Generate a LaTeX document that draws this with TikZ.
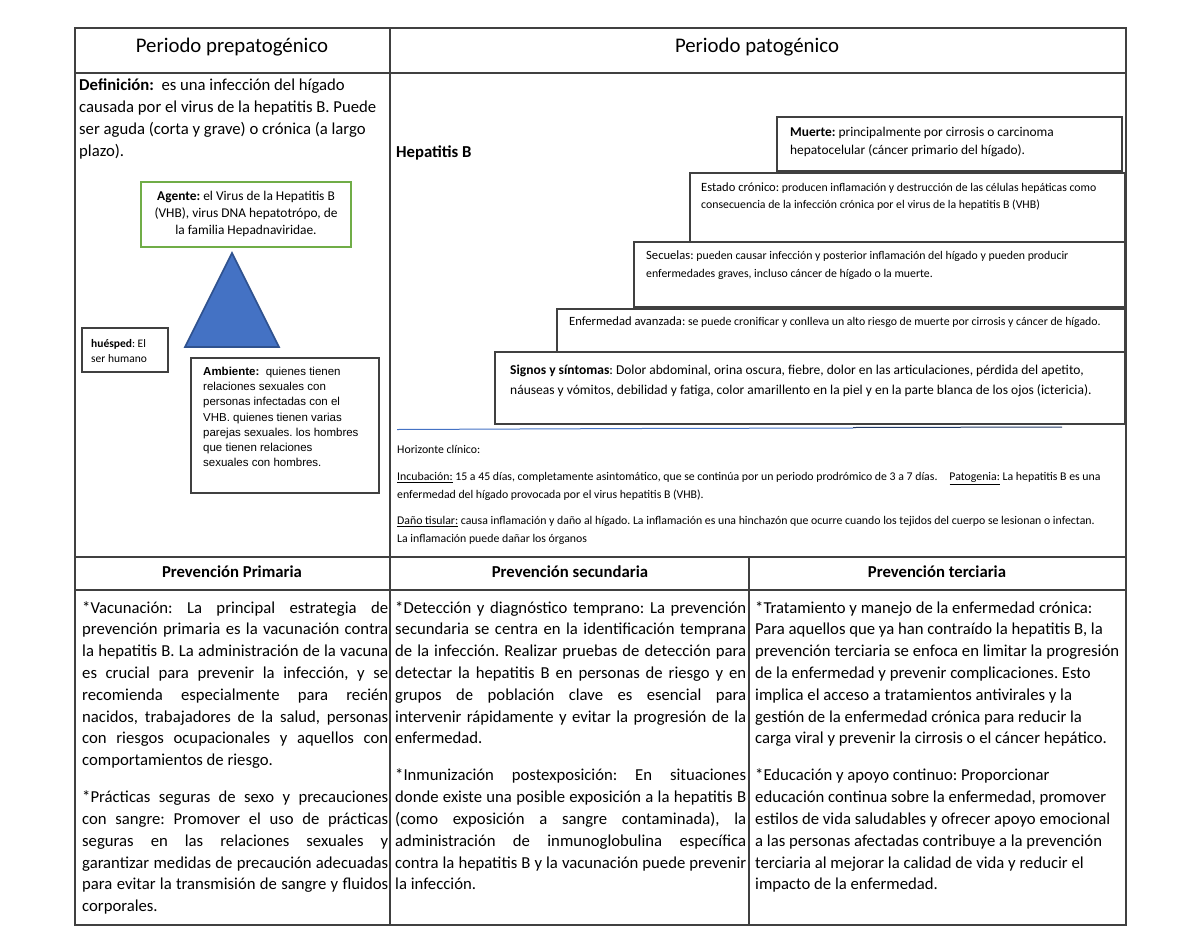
\documentclass[tikz,border=0pt]{standalone}
\usepackage{fontspec}
\setmainfont{Carlito}
\newfontfamily\arialfont{Liberation Sans}
\definecolor{heplinea}{RGB}{64,64,64}
\definecolor{hepverde}{RGB}{112,173,71}
\definecolor{hepazul}{RGB}{68,114,196}
\definecolor{hepmarino}{RGB}{47,82,143}
\definecolor{hepnavy}{RGB}{31,56,100}
\newcommand{\fs}[2]{\fontsize{#1pt}{#2pt}\selectfont}
\newcommand{\etiq}[1]{{\fontsize{12.6pt}{17pt}\selectfont #1}}
\frenchspacing

\begin{document}
\begin{tikzpicture}[x=1pt, y=-1pt,
    celda/.style={draw=heplinea, line width=1.4pt},
    caja/.style={draw=heplinea, line width=1.3pt},
    txt/.style={anchor=north west, inner sep=0pt, align=left},
    cuerpo/.style={anchor=north west, inner sep=0pt, align=justify, font={\fs{16.7}{21.8}\setlength{\parskip}{15.2pt}}},
    titulo/.style={inner sep=0pt, font=\fs{20.8}{24}},
    prev/.style={inner sep=0pt, font=\bfseries\fs{16.7}{20}}]
\useasboundingbox (0,0) rectangle (1200,927);

% === Tabla ===
\draw[celda] (75,28) rectangle (1126,925);
\draw[celda] (75,73) -- (1126,73);
\draw[celda] (75,557) -- (1126,557);
\draw[celda] (75,590) -- (1126,590);
\draw[celda] (390,28) -- (390,925);
\draw[celda] (749,557) -- (749,925);

% Encabezados
\node[titulo] (prepat) at (232,47) {Periodo prepatogénico};
\node[titulo] (pat) at (757,47) {Periodo patogénico};

% === Periodo prepatogénico ===
\node[txt, font=\fs{16.7}{21.8}] (defin) at (79,79) {\textbf{Definición:}\ \ es una infección del hígado\\causada por el virus de la hepatitis B. Puede\\ser aguda (corta y grave) o crónica (a largo\\plazo).};

% Triada
\draw[draw=hepverde, line width=2pt] (141,182) rectangle (351,247);
\node[inner sep=0pt, align=center, font=\fs{13.4}{17.3}] (agente) at (246,214) {\textbf{Agente:} el Virus de la Hepatitis B\\(VHB), virus DNA hepatotrópo, de\\la familia Hepadnaviridae.};

\draw[fill=hepazul, draw=hepmarino, line width=1.6pt] (232,253) -- (185,347) -- (279,347) -- cycle;

\draw[caja] (82,328) rectangle (168,372);
\node[txt, font=\fs{11.5}{15}] (huesped) at (91,339) {\textbf{huésped}: El\\ser humano};

\draw[caja] (191,358) rectangle (379,493);
\node[txt, font={\arialfont\fs{11.5}{15.2}}] (ambiente) at (203,367) {\textbf{Ambiente:}\ \ quienes tienen\\relaciones sexuales con\\personas infectadas con el\\VHB. quienes tienen varias\\parejas sexuales. los hombres\\que tienen relaciones\\sexuales con hombres.};

% === Periodo patogénico ===
\node[anchor=west, inner sep=0pt, font=\bfseries\fs{16.7}{20}] (hepb) at (396,153) {Hepatitis B};

% Escalera
\draw[caja] (777,117) rectangle (1122,171);
\node[txt, font=\fs{13.4}{17.5}] (muerte) at (790,127) {\textbf{Muerte:} principalmente por cirrosis o carcinoma\\hepatocelular (cáncer primario del hígado).};

\draw[caja] (690,173) rectangle (1125,242);
\node[txt, font=\fs{11.8}{17}] (cronico) at (701,183) {\etiq{Estado crónico:} producen inflamación y destrucción de las células hepáticas como\\consecuencia de la infección crónica por el virus de la hepatitis B (VHB)};

\draw[caja] (634,242) rectangle (1125,307);
\node[txt, font=\fs{11.8}{17.5}] (secuelas) at (646,251) {\etiq{Secuelas:} pueden causar infección y posterior inflamación del hígado y pueden producir\\enfermedades graves, incluso cáncer de hígado o la muerte.};

\draw[caja] (557,309) rectangle (1125,352);
\node[txt, font=\fs{11.8}{17}] (avanzada) at (569,317) {\etiq{Enfermedad avanzada:} se puede cronificar y conlleva un alto riesgo de muerte por cirrosis y cáncer de hígado.};

\draw[caja] (495,352) rectangle (1125,424);
\node[txt, font=\fs{13.5}{20}] (signos) at (510,365) {\textbf{Signos y síntomas}: Dolor abdominal, orina oscura, fiebre, dolor en las articulaciones, pérdida del apetito,\\náuseas y vómitos, debilidad y fatiga, color amarillento en la piel y en la parte blanca de los ojos (ictericia).};

% Horizonte clínico
\draw[hepazul, line width=1pt] (397,429.5) -- (639,428.5) -- (853,428);
\draw[hepnavy, line width=1pt] (853,427.5) -- (1062,427);

\node[txt, font=\fs{11.8}{18}] (horizonte) at (397,445) {Horizonte clínico:\\[9pt]\underline{Incubación:} 15 a 45 días, completamente asintomático, que se continúa por un periodo prodrómico de 3 a 7 días.\hspace{12pt}\underline{Patogenia:} La hepatitis B es una\\enfermedad del hígado provocada por el virus hepatitis B (VHB).\\[8pt]\underline{Daño tisular:} causa inflamación y daño al hígado. La inflamación es una hinchazón que ocurre cuando los tejidos del cuerpo se lesionan o infectan.\\La inflamación puede dañar los órganos};

% === Prevención ===
\node[prev] (primaria) at (232,572) {Prevención Primaria};
\node[prev] (secundaria) at (570,572) {Prevención secundaria};
\node[prev] (terciaria) at (937,572) {Prevención terciaria};

\node[cuerpo, text width=306pt] (txtprim) at (82,601) {*Vacunación: La principal estrategia de\linebreak prevención primaria es la vacunación contra\linebreak la hepatitis B. La administración de la vacuna\linebreak es crucial para prevenir la infección, y se\linebreak recomienda especialmente para recién\linebreak nacidos, trabajadores de la salud, personas\linebreak con riesgos ocupacionales y aquellos con\linebreak comportamientos de riesgo.\par *Prácticas seguras de sexo y precauciones\linebreak con sangre: Promover el uso de prácticas\linebreak seguras en las relaciones sexuales y\linebreak garantizar medidas de precaución adecuadas\linebreak para evitar la transmisión de sangre y fluidos\linebreak corporales.};

\node[cuerpo, text width=351pt] (txtsec) at (395,601) {*Detección y diagnóstico temprano: La prevención\linebreak secundaria se centra en la identificación temprana\linebreak de la infección. Realizar pruebas de detección para\linebreak detectar la hepatitis B en personas de riesgo y en\linebreak grupos de población clave es esencial para\linebreak intervenir rápidamente y evitar la progresión de la\linebreak enfermedad.\par *Inmunización postexposición: En situaciones\linebreak donde existe una posible exposición a la hepatitis B\linebreak (como exposición a sangre contaminada), la\linebreak administración de inmunoglobulina específica\linebreak contra la hepatitis B y la vacunación puede prevenir\linebreak la infección.};

\node[txt, font=\fs{16.7}{21.8}] (txtter) at (755,601) {*Tratamiento y manejo de la enfermedad crónica:\\Para aquellos que ya han contraído la hepatitis B, la\\prevención terciaria se enfoca en limitar la progresión\\de la enfermedad y prevenir complicaciones. Esto\\implica el acceso a tratamientos antivirales y la\\gestión de la enfermedad crónica para reducir la\\carga viral y prevenir la cirrosis o el cáncer hepático.\\[15.2pt]*Educación y apoyo continuo: Proporcionar\\educación continua sobre la enfermedad, promover\\estilos de vida saludables y ofrecer apoyo emocional\\a las personas afectadas contribuye a la prevención\\terciaria al mejorar la calidad de vida y reducir el\\impacto de la enfermedad.};

\end{tikzpicture}
\end{document}
